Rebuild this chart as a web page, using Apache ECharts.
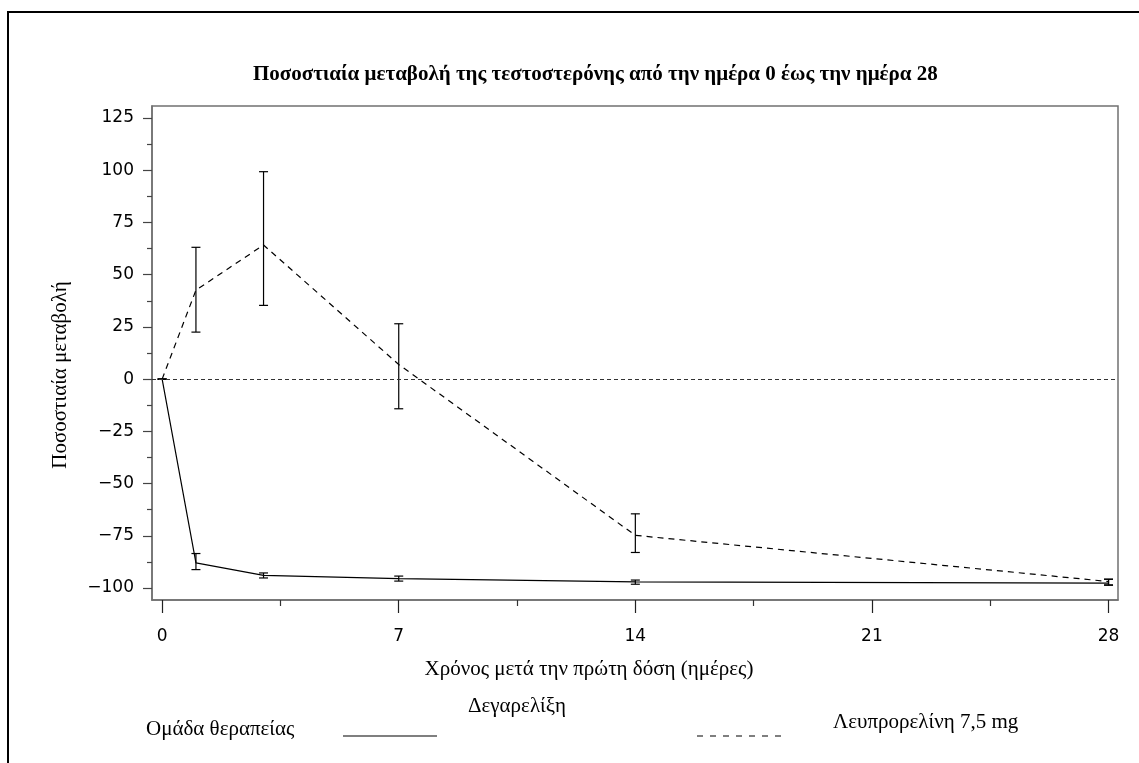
<!DOCTYPE html>
<html>
<head>
<meta charset="utf-8">
<script src="https://cdn.jsdelivr.net/npm/echarts@6/dist/echarts.min.js"></script>
<style>
  html, body { margin: 0; padding: 0; background: #fff; }
  #chart { width: 1139px; height: 763px; }
</style>
</head>
<body>
<div id="chart"></div>
<script>
// days after first dose
const days = [0, 1, 3, 7, 14, 28]

// Degarelix: mean % change with error bar bounds
const degMean = [0, -88.0, -94.0, -95.5, -97.1, -97.7]
const degLow = [0, -91.2, -95.2, -96.7, -98.2, -98.7]
const degHigh = [0, -83.5, -92.8, -94.3, -96.2, -95.8]

// Leuprorelin 7.5 mg
const leuMean = [0, 42.6, 64.2, 7.0, -74.8, -96.9]
const leuLow = [0, 22.5, 35.3, -14.2, -83.0, -98.5]
const leuHigh = [0, 63.1, 99.3, 26.5, -64.5, -95.8]

const xTicks = [0, 7, 14, 21, 28]
const xMinorTicks = [3.5, 10.5, 17.5, 24.5]
const yTicks = [-100, -75, -50, -25, 0, 25, 50, 75, 100, 125]
const yMinorTicks = [-87.5, -62.5, -37.5, -12.5, 12.5, 37.5, 62.5, 87.5, 112.5]

const AXIS = '#707070'
const SANS = 'DejaVu Sans'
const SERIF = 'Liberation Serif'

const X_MIN = -0.3
const X_MAX = 28.28
const Y_MIN = -105.75
const Y_MAX = 130.75

const chart = echarts.init(document.getElementById('chart'))

const toPairs = (ys) => days.map((d, i) => [d, ys[i]])
const toBars = (lo, hi) => days.map((d, i) => [d, lo[i], hi[i]])

function renderErrorBar(params, api) {
  const x = api.value(0)
  const lo = api.coord([x, api.value(1)])
  const hi = api.coord([x, api.value(2)])
  const w = 4.5
  const style = { stroke: '#000', lineWidth: 1.2 }
  return {
    type: 'group',
    children: [
      { type: 'line', shape: { x1: lo[0], y1: lo[1], x2: hi[0], y2: hi[1] }, style },
      { type: 'line', shape: { x1: lo[0] - w, y1: lo[1], x2: lo[0] + w, y2: lo[1] }, style },
      { type: 'line', shape: { x1: hi[0] - w, y1: hi[1], x2: hi[0] + w, y2: hi[1] }, style },
    ],
  }
}

const minus = (v) => String(v).replace('-', '\u2212')

const option = {
  animation: false,
  backgroundColor: '#fff',
  title: {
    text: 'Ποσοστιαία μεταβολή της τεστοστερόνης από την ημέρα 0 έως την ημέρα 28',
    left: 248,
    top: 59,
    textStyle: { fontFamily: SERIF, fontSize: 21, fontWeight: 'bold', color: '#000' },
  },
  grid: {
    left: 152,
    right: 21,
    top: 106,
    bottom: 163,
    show: true,
    borderColor: AXIS,
    borderWidth: 1.5,
  },
  xAxis: [
    {
      type: 'value',
      min: X_MIN,
      max: X_MAX,
      position: 'bottom',
      splitLine: { show: false },
      axisLine: { show: true, onZero: false, lineStyle: { color: AXIS, width: 1.5 } },
      axisTick: { show: true, customValues: xTicks, length: 13, lineStyle: { color: '#222', width: 1.2 } },
      axisLabel: {
        customValues: xTicks,
        margin: 28,
        color: '#000',
        fontFamily: SANS,
        fontSize: 17,
      },
    },
    {
      type: 'value',
      min: X_MIN,
      max: X_MAX,
      position: 'bottom',
      splitLine: { show: false },
      axisLine: { show: false, onZero: false },
      axisTick: { show: true, customValues: xMinorTicks, length: 6, lineStyle: { color: '#333', width: 1.2 } },
      axisLabel: { show: false },
    },
  ],
  yAxis: [
    {
      type: 'value',
      min: Y_MIN,
      max: Y_MAX,
      splitLine: { show: false },
      axisLine: { show: true, onZero: false, lineStyle: { color: AXIS, width: 1.5 } },
      axisTick: { show: true, customValues: yTicks, length: 9, lineStyle: { color: '#444', width: 1.2 } },
      axisLabel: {
        customValues: yTicks,
        margin: 18,
        color: '#000',
        fontFamily: SANS,
        fontSize: 17,
        formatter: minus,
      },
    },
    {
      type: 'value',
      min: Y_MIN,
      max: Y_MAX,
      position: 'left',
      splitLine: { show: false },
      axisLine: { show: false, onZero: false },
      axisTick: { show: true, customValues: yMinorTicks, length: 5, lineStyle: { color: '#444', width: 1.2 } },
      axisLabel: { show: false },
    },
  ],
  series: [
    {
      name: 'Δεγαρελίξη',
      type: 'line',
      data: toPairs(degMean),
      symbol: 'none',
      lineStyle: { color: '#000', width: 1.2 },
      z: 3,
    },
    {
      name: 'Λευπρορελίνη 7,5 mg',
      type: 'line',
      data: toPairs(leuMean),
      symbol: 'none',
      lineStyle: { color: '#000', width: 1.2, type: [6, 5] },
      z: 3,
      markLine: {
        silent: true,
        symbol: 'none',
        label: { show: false },
        lineStyle: { color: '#333', width: 1.2, type: [4, 3] },
        data: [{ yAxis: 0 }],
      },
    },
    {
      type: 'custom',
      renderItem: renderErrorBar,
      data: toBars(degLow, degHigh),
      z: 4,
    },
    {
      type: 'custom',
      renderItem: renderErrorBar,
      data: toBars(leuLow, leuHigh),
      z: 4,
    },
  ],
  graphic: [
    {
      type: 'rect',
      shape: { x: 8, y: 12, width: 1300, height: 900 },
      style: { fill: 'none', stroke: '#000', lineWidth: 2 },
      z: -1,
    },
    {
      type: 'text',
      x: 60,
      y: 375,
      rotation: Math.PI / 2,
      style: {
        text: 'Ποσοστιαία μεταβολή',
        fontFamily: SERIF,
        fontSize: 21,
        fill: '#000',
        align: 'center',
        verticalAlign: 'middle',
      },
    },
    {
      type: 'text',
      x: 589,
      y: 669,
      style: {
        text: 'Χρόνος μετά την πρώτη δόση (ημέρες)',
        fontFamily: SERIF,
        fontSize: 21,
        fill: '#000',
        align: 'center',
        verticalAlign: 'middle',
      },
    },
    {
      type: 'text',
      x: 146,
      y: 729,
      style: { text: 'Ομάδα θεραπείας', fontFamily: SERIF, fontSize: 21, fill: '#000', align: 'left', verticalAlign: 'middle' },
    },
    {
      type: 'line',
      shape: { x1: 343, y1: 736, x2: 437, y2: 736 },
      style: { stroke: '#000', lineWidth: 1.2 },
    },
    {
      type: 'text',
      x: 468,
      y: 706,
      style: { text: 'Δεγαρελίξη', fontFamily: SERIF, fontSize: 21, fill: '#000', align: 'left', verticalAlign: 'middle' },
    },
    {
      type: 'line',
      shape: { x1: 697, y1: 736, x2: 787, y2: 736 },
      style: { stroke: '#000', lineWidth: 1.2, lineDash: [6, 7] },
    },
    {
      type: 'text',
      x: 833,
      y: 722,
      style: { text: 'Λευπρορελίνη 7,5 mg', fontFamily: SERIF, fontSize: 21, fill: '#000', align: 'left', verticalAlign: 'middle' },
    },
  ],
}

chart.setOption(option)
</script>
</body>
</html>
